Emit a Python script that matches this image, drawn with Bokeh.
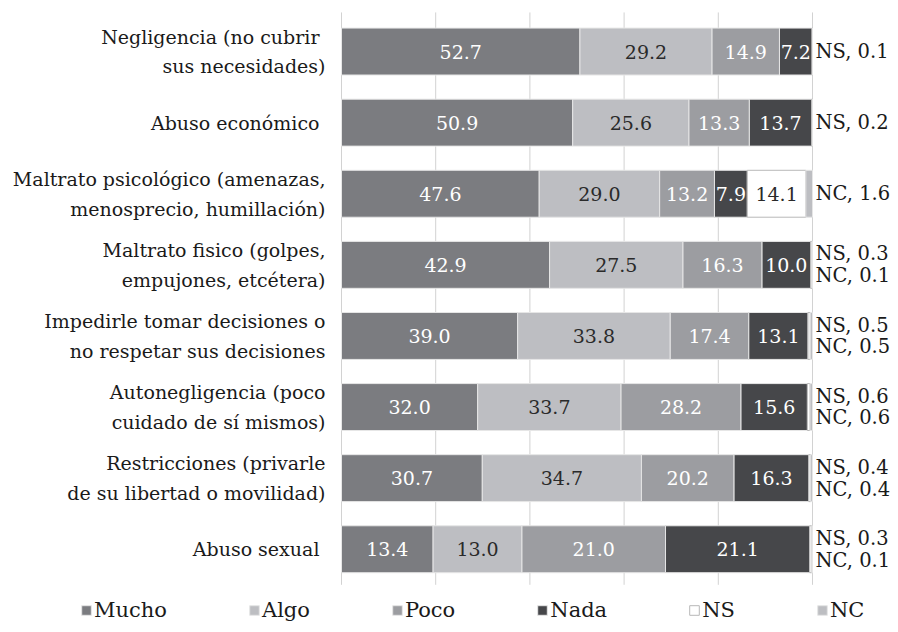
import numpy as np
import pandas as pd
from bokeh.plotting import figure
from bokeh.models import ColumnDataSource, Range1d, Legend, LegendItem
from bokeh.core.properties import value
from bokeh.embed import file_html
from bokeh.resources import INLINE

# ---------------- data ----------------
categories = [
    "Negligencia (no cubrir \nsus necesidades)",
    "Abuso económico ",
    "Maltrato psicológico (amenazas,\nmenosprecio, humillación)",
    "Maltrato fisico (golpes,\nempujones, etcétera)",
    "Impedirle tomar decisiones o\nno respetar sus decisiones",
    "Autonegligencia (poco\ncuidado de sí mismos)",
    "Restricciones (privarle\nde su libertad o movilidad)",
    "Abuso sexual ",
]
series = ["Mucho", "Algo", "Poco", "Nada", "NS", "NC"]
mucho = [52.7, 50.9, 47.6, 42.9, 39.0, 32.0, 30.7, 13.4]
algo = [29.2, 25.6, 29.0, 27.5, 33.8, 33.7, 34.7, 13.0]
poco = [14.9, 13.3, 13.2, 16.3, 17.4, 28.2, 20.2, 21.0]
nada = [7.2, 13.7, 7.9, 10.0, 13.1, 15.6, 16.3, 21.1]
ns = [0.1, 0.2, 14.1, 0.3, 0.5, 0.6, 0.4, 0.3]
nc = [0.0, 0.0, 1.6, 0.1, 0.5, 0.6, 0.4, 0.1]
grid_ticks = [0, 20, 40, 60, 80, 100]

# ---------------- styles ----------------
FONT = "DejaVu Serif"
colors = ["#7b7c80", "#bdbec2", "#9c9da1", "#46474a", "#ffffff", "#bdbec2"]
line_colors = ["#e6e6e6", "#e6e6e6", "#e6e6e6", "#e6e6e6", "#b8b8b8", "#e6e6e6"]
label_colors = ["#ffffff", "#2a2a2a", "#ffffff", "#ffffff", "#2a2a2a", "#2a2a2a"]
FS_CAT = "19px"
FS_VAL = "19px"
FS_OUT = "19.5px"
FS_LEG = "21px"

values = {"Mucho": mucho, "Algo": algo, "Poco": poco, "Nada": nada, "NS": ns, "NC": nc}
df = pd.DataFrame(values)
df["cat"] = categories
n = len(categories)
df["ypos"] = list(range(n - 1, -1, -1))  # first category on top
total = df[series].sum(axis=1)
for s in series:
    df[s + "_p"] = df[s] / total * 100
source = ColumnDataSource(df)

# layout constants (pixels)
W, H = 898, 632
ZERO_PX = 341          # x pixel of 0 %
PX_PER_PCT = 4.71
ROW_PX = 71.1
TOP_PX = 15.5          # top of first row band
x_start = -ZERO_PX / PX_PER_PCT
x_end = (W - ZERO_PX) / PX_PER_PCT
y_end = (n - 0.5) + TOP_PX / ROW_PX
y_start = y_end - H / ROW_PX

p = figure(width=W, height=H, output_backend="svg", toolbar_location=None,
           x_range=Range1d(x_start, x_end), y_range=Range1d(y_start, y_end),
           min_border=0, min_border_left=0, min_border_right=0,
           min_border_top=0, min_border_bottom=0)
p.outline_line_color = None
p.xaxis.visible = False
p.yaxis.visible = False
p.xgrid.grid_line_color = None
p.ygrid.grid_line_color = None

# vertical grid lines spanning the category band
p.segment(x0=grid_ticks, x1=grid_ticks, y0=[-0.5] * len(grid_ticks),
          y1=[n - 0.5 + 0.05] * len(grid_ticks), line_color="#d2d2d2", line_width=1)

renderers = p.hbar_stack([s + "_p" for s in series], y="ypos", height=0.66, source=source,
                         color=colors, line_color=line_colors, line_width=1)

# category labels
p.text(x=0, y="ypos", text="cat", source=source, x_offset=-16, text_align="right",
       text_baseline="middle", text_font=value(FONT), text_font_size=FS_CAT,
       text_color="#1a1a1a", text_line_height=1.36)

# in-bar labels
cum = np.zeros(n)
for i, s in enumerate(series):
    pct = df[s + "_p"].to_numpy()
    vals = df[s].to_numpy()
    centers = cum + pct / 2
    mask = vals >= 5
    src = ColumnDataSource(dict(x=centers[mask], y=df["ypos"].to_numpy()[mask],
                                t=[f"{v:.1f}" for v in vals[mask]]))
    p.text(x="x", y="y", text="t", source=src, text_align="center", text_baseline="middle",
           text_font=value(FONT), text_font_size=FS_VAL, text_color=label_colors[i])
    cum = cum + pct

# outside labels for small NS / NC
out_t = []
for a, b in zip(ns, nc):
    parts = []
    if 0 < a < 5:
        parts.append(f"NS, {a:.1f}")
    if 0 < b < 5:
        parts.append(f"NC, {b:.1f}")
    out_t.append("\n".join(parts))
out_src = ColumnDataSource(dict(x=[100] * n, y=df["ypos"], t=out_t))
p.text(x="x", y="y", text="t", source=out_src, x_offset=3, text_align="left",
       text_baseline="middle", text_font=value(FONT), text_font_size=FS_OUT,
       text_color="#1a1a1a", text_line_height=0.95)

legend = Legend(items=[LegendItem(label=s, renderers=[r]) for s, r in zip(series, renderers)],
                orientation="horizontal", location=(80, 10), spacing=81,
                glyph_width=12, glyph_height=12, label_standoff=2,
                label_text_font=FONT, label_text_font_size=FS_LEG, label_text_color="#1a1a1a",
                border_line_color=None, background_fill_alpha=0, padding=0, margin=0)
p.add_layout(legend, "center")

open("out.html", "w").write(file_html(p, INLINE))
